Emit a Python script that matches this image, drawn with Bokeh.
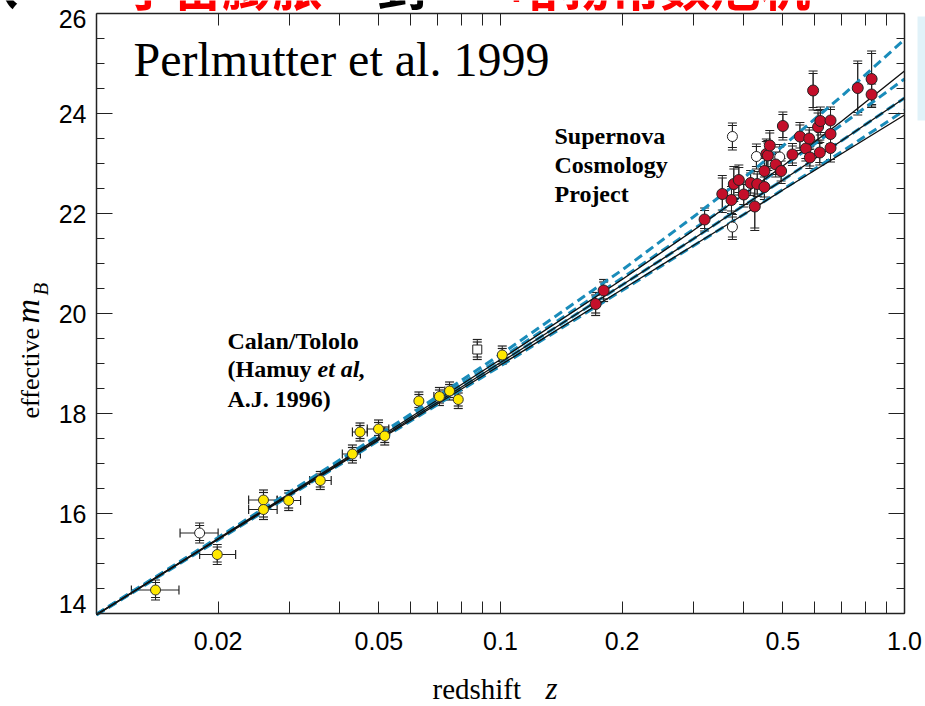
import numpy as np
from bokeh.plotting import figure
from bokeh.models import (FixedTicker, LogAxis, LinearAxis, Whisker, ColumnDataSource,
                          Label, TeeHead, Range1d, BoxAnnotation)
from bokeh.embed import file_html
from bokeh.resources import INLINE

# ---------------- data ----------------
# Calan/Tololo supernovae (yellow)
ct_z = [0.0140, 0.0199, 0.0259, 0.0259, 0.0299, 0.0358, 0.0430, 0.0449, 0.0499,
        0.0517, 0.0628, 0.0706, 0.0748, 0.0786, 0.1010]
ct_m = [14.47, 15.18, 16.27, 16.08, 16.26, 16.66, 17.19, 17.63, 17.69,
        17.55, 18.25, 18.34, 18.45, 18.28, 19.17]
ct_err = [0.20, 0.20, 0.20, 0.20, 0.20, 0.18, 0.18, 0.18, 0.18,
          0.18, 0.18, 0.18, 0.18, 0.18, 0.18]
ct_zlo = [0.0122, 0.0180, 0.0238, 0.0238, 0.0280, 0.0337, 0.0406, 0.0430, 0.0468,
          None, None, 0.0684, 0.0728, None, None]
ct_zhi = [0.0160, 0.0221, 0.0280, 0.0280, 0.0320, 0.0381, 0.0450, 0.0468, 0.0529,
          None, None, 0.0731, 0.0769, None, None]

# low-z excluded points (open)
lo_open_circ_z = [0.0180]
lo_open_circ_m = [15.61]
lo_open_circ_err = [0.20]
lo_open_circ_zlo = [0.0161]
lo_open_circ_zhi = [0.0200]
lo_open_sq_z = [0.0876]
lo_open_sq_m = [19.28]
lo_open_sq_err = [0.20]

# Supernova Cosmology Project (red)
scp_z = [0.172, 0.180, 0.320, 0.354, 0.373, 0.378, 0.389, 0.400, 0.416, 0.426,
         0.432, 0.450, 0.450, 0.455, 0.459, 0.464, 0.480, 0.495, 0.500, 0.528,
         0.551, 0.570, 0.581, 0.583, 0.594, 0.611, 0.617, 0.619, 0.656, 0.656,
         0.656, 0.766, 0.829, 0.829]
scp_m = [20.19, 20.46, 21.88, 22.39, 22.27, 22.59, 22.67, 22.38, 22.61, 22.14,
         22.59, 22.53, 22.85, 23.19, 23.16, 23.36, 22.98, 22.85, 23.75, 23.18,
         23.54, 23.30, 23.50, 23.12, 24.46, 23.73, 23.22, 23.85, 23.86, 23.59,
         23.31, 24.51, 24.69, 24.38]
scp_err = [0.23, 0.22, 0.23, 0.37, 0.27, 0.35, 0.30, 0.25, 0.25, 0.48,
           0.25, 0.25, 0.30, 0.30, 0.30, 0.30, 0.25, 0.25, 0.28, 0.22,
           0.28, 0.25, 0.22, 0.22, 0.39, 0.33, 0.25, 0.28, 0.27, 0.25,
           0.28, 0.54, 0.56, 0.26]

# SCP excluded points (open circles)
scp_open_z = [0.375, 0.375, 0.430, 0.491]
scp_open_m = [23.54, 21.73, 23.14, 23.13]
scp_open_err = [0.27, 0.25, 0.25, 0.25]

# model curves (solid: Lambda=0; dashed: flat)
model_z = [0.01, 0.02, 0.05, 0.1, 0.2, 0.3, 0.4, 0.5, 0.7, 1.0]
solid_00 = [13.98, 15.50, 17.52, 19.08, 20.68, 21.66, 22.38, 22.95, 23.85, 24.85]
solid_10 = [13.98, 15.49, 17.49, 19.02, 20.57, 21.49, 22.16, 22.67, 23.46, 24.31]
solid_20 = [13.97, 15.48, 17.47, 18.97, 20.48, 21.36, 21.98, 22.47, 23.20, 23.97]
dashed_01 = [13.99, 15.52, 17.57, 19.18, 20.87, 21.93, 22.71, 23.35, 24.35, 25.48]
dashed_55 = [13.98, 15.50, 17.53, 19.10, 20.71, 21.68, 22.38, 22.94, 23.78, 24.69]
dashed_10 = [13.98, 15.49, 17.49, 19.02, 20.57, 21.49, 22.16, 22.67, 23.46, 24.31]
dashed_15 = [13.97, 15.47, 17.46, 18.95, 20.46, 21.35, 21.98, 22.48, 23.24, 24.06]

# axis ticks
x_major = [0.02, 0.05, 0.1, 0.2, 0.5, 1.0]
x_major_labels = ["0.02", "0.05", "0.1", "0.2", "0.5", "1.0"]
x_minor = [0.03, 0.04, 0.06, 0.07, 0.08, 0.09, 0.3, 0.4, 0.6, 0.7, 0.8, 0.9]
y_major = [14, 16, 18, 20, 22, 24, 26]
y_major_labels = ["14", "16", "18", "20", "22", "24", "26"]
y_minor = [14.5, 15, 15.5, 16.5, 17, 17.5, 18.5, 19, 19.5, 20.5, 21, 21.5,
           22.5, 23, 23.5, 24.5, 25, 25.5]

# ---------------- geometry ----------------
W, H = 925, 706
X0, X1 = 96, 904          # pixel columns of z = 0.01 and z = 1.0
Y0, Y1 = 13, 613          # pixel rows of m = 26 and m = 14
ZMIN, ZMAX = 0.01, 1.0
MMIN, MMAX = 14, 26
BASE_SHIFT = 0.38         # bokeh draws "alphabetic" labels this many ems lower
CAP_GAP = 0.05            # second (inner) cap of each vertical error bar, in mag


def zx(px):
    lz0, lz1 = np.log10(ZMIN), np.log10(ZMAX)
    return float(10 ** (lz0 + (px - X0) / (X1 - X0) * (lz1 - lz0)))


def my(py):
    return MMAX - (py - Y0) / (Y1 - Y0) * (MMAX - MMIN)


# the frame covers the whole canvas; the box axes sit at fixed data locations
p = figure(width=W, height=H, x_axis_type="log",
           x_range=Range1d(zx(0), zx(W)), y_range=Range1d(my(H), my(0)),
           output_backend="svg", toolbar_location=None,
           min_border_left=0, min_border_right=0, min_border_top=0, min_border_bottom=0)
p.grid.visible = False
p.background_fill_color = "white"
p.border_fill_color = "white"
p.outline_line_color = None

AX = "#222222"
TICK_FONT = "Liberation Sans"

xax = p.xaxis[0]
xax.fixed_location = MMIN
xax.bounds = (ZMIN, ZMAX)
xax.ticker = FixedTicker(ticks=x_major, minor_ticks=x_minor)
xax.major_label_overrides = {t: l for t, l in zip(x_major, x_major_labels)}
xax.major_tick_in = 12
xax.major_tick_out = 0
xax.minor_tick_in = 12
xax.minor_tick_out = 0
xax.major_label_standoff = 18
xax.major_label_text_font = TICK_FONT
xax.major_label_text_font_size = "25px"
xax.major_label_text_color = "black"
xax.axis_line_color = AX
xax.axis_line_width = 1.5
xax.major_tick_line_color = AX
xax.minor_tick_line_color = AX

# the two end labels of the y axis sit inside the box in the original, drawn below
end_labels = {y_major[0]: y_major_labels[0], y_major[-1]: y_major_labels[-1]}
yax = p.yaxis[0]
yax.fixed_location = ZMIN
yax.bounds = (MMIN, MMAX)
yax.ticker = FixedTicker(ticks=y_major, minor_ticks=y_minor)
yax.major_label_overrides = {t: ("" if t in end_labels else l)
                             for t, l in zip(y_major, y_major_labels)}
yax.major_tick_in = 16
yax.major_tick_out = 0
yax.minor_tick_in = 8
yax.minor_tick_out = 0
yax.major_label_standoff = 10
yax.major_label_text_font = TICK_FONT
yax.major_label_text_font_size = "25px"
yax.major_label_text_color = "black"
yax.axis_line_color = AX
yax.axis_line_width = 1.5
yax.major_tick_line_color = AX
yax.minor_tick_line_color = AX

top = LogAxis(fixed_location=MMAX, bounds=(ZMIN, ZMAX),
              ticker=FixedTicker(ticks=x_major, minor_ticks=x_minor),
              major_tick_in=12, major_tick_out=0, minor_tick_in=12, minor_tick_out=0,
              major_label_overrides={t: "" for t in x_major},
              axis_line_color=AX, axis_line_width=1.5,
              major_tick_line_color=AX, minor_tick_line_color=AX)
p.add_layout(top, "above")
right = LinearAxis(fixed_location=ZMAX, bounds=(MMIN, MMAX),
                   ticker=FixedTicker(ticks=y_major, minor_ticks=y_minor),
                   major_tick_in=16, major_tick_out=0, minor_tick_in=8, minor_tick_out=0,
                   major_label_overrides={t: "" for t in y_major},
                   axis_line_color=AX, axis_line_width=1.5,
                   major_tick_line_color=AX, minor_tick_line_color=AX)
p.add_layout(right, "right")

# faint slide decoration at the right edge
p.add_layout(BoxAnnotation(left=zx(917), right=zx(W), bottom=my(120), top=my(16),
                           fill_color="#d9eff7", fill_alpha=0.8, line_color=None))

# ---------------- model lines ----------------
BLUE = "#1a8cba"
for ys in [dashed_01, dashed_55, dashed_10, dashed_15]:
    p.line(model_z, ys, line_color=BLUE, line_width=3, line_dash="9 5")
for ys in [solid_00, solid_10, solid_20]:
    p.line(model_z, ys, line_color="#111111", line_width=1.4)


# ---------------- error bars ----------------
def add_verr(zs, ms, errs):
    src = ColumnDataSource(dict(
        z=zs,
        lo=[m - e for m, e in zip(ms, errs)],
        hi=[m + e for m, e in zip(ms, errs)],
        lo2=[m - e + CAP_GAP for m, e in zip(ms, errs)],
        hi2=[m + e - CAP_GAP for m, e in zip(ms, errs)]))
    for lo, hi in (("lo", "hi"), ("lo2", "hi2")):
        w = Whisker(source=src, base="z", lower=lo, upper=hi, dimension="height",
                    line_color=AX, line_width=1,
                    upper_head=TeeHead(size=9, line_color=AX, line_width=1.2),
                    lower_head=TeeHead(size=9, line_color=AX, line_width=1.2))
        p.add_layout(w)


def add_herr(ms, zlo, zhi):
    lo = np.array([np.nan if v is None else v for v in zlo], dtype=float)
    hi = np.array([np.nan if v is None else v for v in zhi], dtype=float)
    keep = ~np.isnan(lo)
    src = ColumnDataSource(dict(m=np.array(ms, dtype=float)[keep], lo=lo[keep], hi=hi[keep]))
    w = Whisker(source=src, base="m", lower="lo", upper="hi", dimension="width",
                line_color=AX, line_width=1,
                upper_head=TeeHead(size=9, line_color=AX, line_width=1.2),
                lower_head=TeeHead(size=9, line_color=AX, line_width=1.2))
    p.add_layout(w)


add_verr(ct_z, ct_m, ct_err)
add_herr(ct_m, ct_zlo, ct_zhi)
add_verr(lo_open_circ_z, lo_open_circ_m, lo_open_circ_err)
add_herr(lo_open_circ_m, lo_open_circ_zlo, lo_open_circ_zhi)
add_verr(lo_open_sq_z, lo_open_sq_m, lo_open_sq_err)
add_verr(scp_z, scp_m, scp_err)
add_verr(scp_open_z, scp_open_m, scp_open_err)

# ---------------- points ----------------
p.scatter(lo_open_circ_z, lo_open_circ_m, marker="circle", size=10,
          fill_color="white", line_color=AX, line_width=1)
p.scatter(lo_open_sq_z, lo_open_sq_m, marker="square", size=9,
          fill_color="white", line_color=AX, line_width=1)
p.scatter(ct_z, ct_m, marker="circle", size=10,
          fill_color="#ffe800", line_color="#333333", line_width=1)
p.scatter(scp_open_z, scp_open_m, marker="circle", size=10,
          fill_color="white", line_color=AX, line_width=1)
p.scatter(scp_z, scp_m, marker="circle", size=11,
          fill_color="#c40f2a", line_color=AX, line_width=1)


# ---------------- texts ----------------
def lab(px, py, text, font="Liberation Serif", size=24, style="normal",
        color="black", angle=0.0, align="left"):
    if angle == 0.0:
        py = py - BASE_SHIFT * size
    else:
        px = px - BASE_SHIFT * size
    p.add_layout(Label(x=zx(px), y=my(py), text=text, text_font=font,
                       text_font_size=f"{size}px", text_font_style=style, text_color=color,
                       text_baseline="alphabetic", text_align=align, angle=angle))


# y-axis end labels, nudged inside the axis span as in the original
lab(86, 28, end_labels[MMAX], font=TICK_FONT, size=25, align="right")
lab(86, 613, end_labels[MMIN], font=TICK_FONT, size=25, align="right")

lab(133, 77, "Perlmutter et al. 1999", size=48)

lab(554, 145, "Supernova", style="bold")
lab(554, 174, "Cosmology", style="bold")
lab(554, 203, "Project", style="bold")

lab(227, 350, "Calan/Tololo", style="bold")
lab(227, 378, "(Hamuy", style="bold")
lab(317, 378, "et al", style="bold italic")
lab(358, 378, ",", style="bold")
lab(227, 408, "A.J. 1996)", style="bold")

lab(432, 700, "redshift", size=29)
lab(545, 700, "z", size=31, style="italic")

lab(40, 418, "effective", size=26, angle=np.pi / 2)
lab(40, 323, "m", size=34, style="italic", angle=np.pi / 2)
lab(48, 295, "B", size=21, style="italic", angle=np.pi / 2)

# slide title, cut off by the top edge
CJK = "Noto Sans CJK SC"
lab(-32, 2, "从", font=CJK, size=50, style="bold", color="black")
lab(122, 2, "宇宙膨胀", font=CJK, size=50, style="bold", color="#ff0000")
lab(376, 2, "到", font=CJK, size=50, style="bold", color="black")
lab(510, 2, "哈勃常数危机", font=CJK, size=50, style="bold", color="#ff0000")

open("out.html", "w").write(file_html(p, INLINE))
